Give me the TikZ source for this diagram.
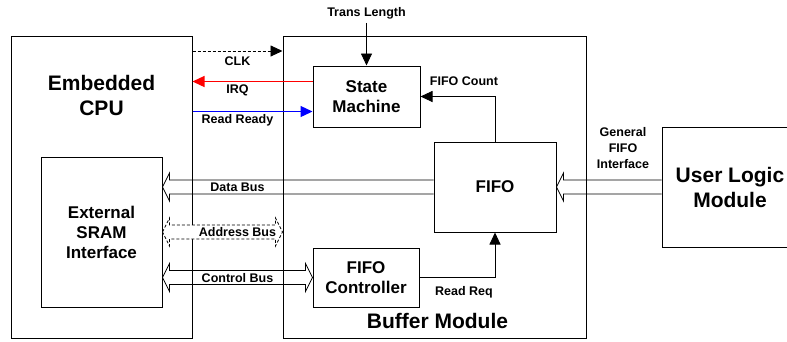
\documentclass[tikz,border=0pt]{standalone}
\usepackage{fontspec}
\setmainfont{Liberation Sans}
\usetikzlibrary{arrows.meta,calc}
\definecolor{irqred}{RGB}{255,0,0}
\definecolor{rrblue}{RGB}{0,0,255}
\begin{document}
\begin{tikzpicture}[x=1pt,y=-1pt, line width=0.9pt,
  box/.style={draw, inner sep=0pt, align=center, line width=1pt},
  big/.style={font=\fontsize{21}{25}\selectfont\bfseries, align=center},
  mid/.style={font=\fontsize{17}{20}\selectfont\bfseries, align=center},
  lbl/.style={font=\fontsize{12.5}{16}\selectfont\bfseries, align=center, inner sep=0pt},
  sig/.style={-{Triangle[length=12pt,width=11pt]}, line width=0.9pt},
  csig/.style={-{Triangle[length=12pt,width=11pt]}, line width=1.3pt, draw=#1, fill=#1},
  bus/.style={line width=0.8pt},
  dsh/.style={dash pattern=on 3pt off 2pt}]
\useasboundingbox (0,0) rectangle (787,341);

% boxes
\node[box, minimum width=181pt, minimum height=302pt] (cpu) at (101.5,187) {};
\node[big] (cpul) at (101.5,95.5) {Embedded\\CPU};
\node[box, minimum width=303pt, minimum height=302pt] (buf) at (434.5,187) {};
\node[big] (bufl) at (437.5,321) {Buffer Module};
\node[box, mid, minimum width=121pt, minimum height=150pt] (sram) at (101.5,232) {External\\SRAM\\Interface};
\node[box, mid, minimum width=107pt, minimum height=61pt] (sm) at (366.5,96.5) {State\\Machine};
\node[box, mid, minimum width=122pt, minimum height=90pt] (fifo) at (495,187) {FIFO};
\node[box, mid, minimum width=106pt, minimum height=59pt] (fc) at (366,277.5) {FIFO\\Controller};
\node[box, big, minimum width=136pt, minimum height=120pt] (ul) at (730,187) {User Logic\\Module};

% signal labels
\node[lbl] (tl) at (366.5,13.5) {Trans Length};
\node[lbl] (clkl) at (237.5,61.5) {CLK};
\node[lbl] (irql) at (237.5,90) {IRQ};
\node[lbl] (rrl) at (237.5,120.5) {Read Ready};
\node[lbl] (fcl) at (464,81.5) {FIFO Count};
\node[lbl] (gfl) at (623,148.5) {General\\FIFO\\Interface};
\node[lbl] (dbl) at (237.5,187) {Data Bus};
\node[lbl] (cbl) at (237.5,278) {Control Bus};
\node[lbl] (rql) at (464,292) {Read Req};

% simple signals
\coordinate (clkA) at (cpu.east |- 0,51);
\coordinate (clkB) at (buf.west |- 0,51);
\draw[sig, dsh] (clkA) -- (clkB);
\coordinate (irqA) at ($(sm.west)+(0,-15)$);
\coordinate (irqB) at (cpu.east |- irqA);
\draw[csig=irqred] (irqA) -- (irqB);
\coordinate (rrB) at ($(sm.west)+(0,15)$);
\coordinate (rrA) at (cpu.east |- rrB);
\draw[csig=rrblue] (rrA) -- (rrB);
\draw[sig] ($(tl.south)+(0,3)$) -- (sm.north);
\draw[sig] (fifo.north) |- (sm.east);
\draw[sig] (fc.east) -| (fifo.south);

% data bus (FIFO -> SRAM)
\coordinate (dbL) at (sram.east |- fifo.west);
\draw[bus] ($(fifo.west)+(0,-7)$) -- ($(dbL)+(7,-7)$) -- ++(0,-7) -- (dbL) -- ++(7,14) -- ++(0,-7) -- ($(fifo.west)+(0,7)$);

% general FIFO interface (User Logic -> FIFO)
\coordinate (gfR) at (ul.west |- fifo.east);
\draw[bus] ($(gfR)+(0,-7)$) -- ($(fifo.east)+(7,-7)$) -- ++(0,-7) -- (fifo.east) -- ++(7,14) -- ++(0,-7) -- ($(gfR)+(0,7)$);

% control bus (both ways)
\coordinate (cbL) at (sram.east |- fc.west);
\draw[bus] (cbL) -- ++(7,-14) -- ++(0,7) -- ($(fc.west)+(-7,-7)$) -- ++(0,-7) -- (fc.west) -- ++(-7,14) -- ++(0,-7) -- ($(cbL)+(7,7)$) -- ++(0,7) -- cycle;

% address bus (dashed, both ways)
\coordinate (abR) at (buf.west |- sram.east);
\draw[bus, dsh, fill=white] (sram.east) -- ++(7,-14) -- ++(0,7) -- ($(abR)+(-7,-7)$) -- ++(0,-7) -- (abR) -- ++(-7,14) -- ++(0,-7) -- ($(sram.east)+(7,7)$) -- ++(0,7) -- cycle;
\node[lbl] (abl) at (237.5,232) {Address Bus};
\end{tikzpicture}
\end{document}
